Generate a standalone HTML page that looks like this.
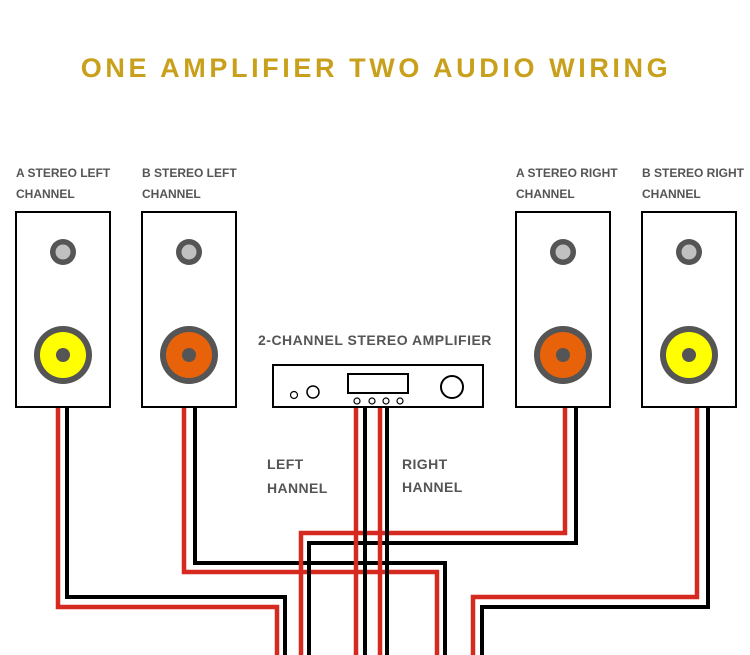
<!DOCTYPE html>
<html><head><meta charset="utf-8"><style>
body{margin:0;background:#fff;width:750px;height:655px;overflow:hidden}
svg{display:block}
text{font-family:"Liberation Sans","DejaVu Sans",sans-serif;font-weight:bold;fill:#555}
</style></head><body>
<svg width="750" height="655" viewBox="0 0 750 655">
<text x="376" y="77" text-anchor="middle" style="fill:#c9a01b;font-size:27px;letter-spacing:3.6px">ONE AMPLIFIER TWO AUDIO WIRING</text>
<g font-size="12">
<text x="16" y="177">A STEREO LEFT</text><text x="16" y="198">CHANNEL</text>
<text x="142" y="177">B STEREO LEFT</text><text x="142" y="198">CHANNEL</text>
<text x="516" y="177">A STEREO RIGHT</text><text x="516" y="198">CHANNEL</text>
<text x="642" y="177">B STEREO RIGHT</text><text x="642" y="198">CHANNEL</text>
</g>
<text x="258" y="345" font-size="14" letter-spacing="0.5">2-CHANNEL STEREO AMPLIFIER</text>
<g font-size="14" letter-spacing="0.4"><text x="267" y="469">LEFT</text><text x="267" y="493">HANNEL</text>
<text x="402" y="469">RIGHT</text><text x="402" y="492">HANNEL</text></g>
<g fill="none" stroke-width="4.5">
<polyline stroke="#d62a20" points="58,407 58,607 277,607 277,655"/>
<polyline stroke="#000" stroke-width="4" points="67,407 67,597 285,597 285,655"/>
<polyline stroke="#d62a20" points="184,407 184,572 437,572 437,655"/>
<polyline stroke="#000" stroke-width="4" points="195,407 195,563 445,563 445,655"/>
<polyline stroke="#d62a20" points="565,407 565,533 301,533 301,655"/>
<polyline stroke="#000" stroke-width="4" points="576,407 576,543 309,543 309,655"/>
<polyline stroke="#d62a20" points="697,407 697,597 473,597 473,655"/>
<polyline stroke="#000" stroke-width="4" points="708,407 708,607 482,607 482,655"/>
<line stroke="#d62a20" x1="356" y1="407" x2="356" y2="655"/>
<line stroke="#000" stroke-width="4" x1="365" y1="407" x2="365" y2="655"/>
<line stroke="#d62a20" x1="380" y1="407" x2="380" y2="655"/>
<line stroke="#000" stroke-width="4" x1="387" y1="407" x2="387" y2="655"/>
</g>
<g stroke="#000" stroke-width="2" fill="#fff">
<rect x="16" y="212" width="94" height="195"/>
<rect x="142" y="212" width="94" height="195"/>
<rect x="516" y="212" width="94" height="195"/>
<rect x="642" y="212" width="94" height="195"/>
<rect x="273" y="365" width="210" height="42"/>
<rect x="348" y="374" width="60" height="19"/>
<circle cx="452" cy="387" r="11"/>
<circle cx="313" cy="392" r="6" stroke-width="1.5"/>
<circle cx="294" cy="395" r="3.5" stroke-width="1.2"/>
<circle cx="357" cy="401" r="3" stroke-width="1.2"/>
<circle cx="372" cy="401" r="3" stroke-width="1.2"/>
<circle cx="386" cy="401" r="3" stroke-width="1.2"/>
<circle cx="400" cy="401" r="3" stroke-width="1.2"/>
</g>
<g>
<g transform="translate(63,0)"><circle cy="252" r="13" fill="#555"/><circle cy="252" r="7.5" fill="#c0c0c0"/><circle cy="355" r="29" fill="#555"/><circle cy="355" r="23" fill="#ffff00"/><circle cy="355" r="7" fill="#555"/></g>
<g transform="translate(189,0)"><circle cy="252" r="13" fill="#555"/><circle cy="252" r="7.5" fill="#c0c0c0"/><circle cy="355" r="29" fill="#555"/><circle cy="355" r="23" fill="#e8620a"/><circle cy="355" r="7" fill="#555"/></g>
<g transform="translate(563,0)"><circle cy="252" r="13" fill="#555"/><circle cy="252" r="7.5" fill="#c0c0c0"/><circle cy="355" r="29" fill="#555"/><circle cy="355" r="23" fill="#e8620a"/><circle cy="355" r="7" fill="#555"/></g>
<g transform="translate(689,0)"><circle cy="252" r="13" fill="#555"/><circle cy="252" r="7.5" fill="#c0c0c0"/><circle cy="355" r="29" fill="#555"/><circle cy="355" r="23" fill="#ffff00"/><circle cy="355" r="7" fill="#555"/></g>
</g>
</svg>
</body></html>
